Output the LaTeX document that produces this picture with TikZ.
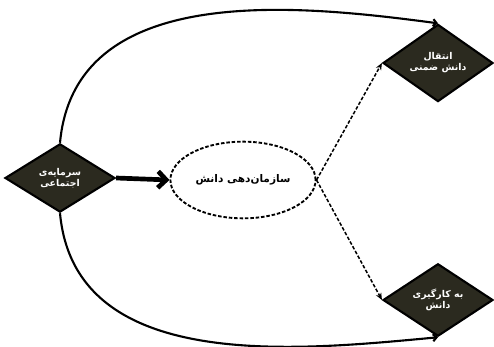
\documentclass[tikz,border=0pt]{standalone}
\usepackage{fontspec}
\newfontfamily\arabicfont[Script=Arabic]{DejaVu Sans}
\TeXXeTstate=1
\usetikzlibrary{arrows.meta,shapes.geometric}
\definecolor{darkfill}{HTML}{2B2A1F}

\begin{document}
\begin{tikzpicture}[
  x=0.03cm, y=-0.03cm,
  dia/.style={diamond, draw=black, line width=1.8pt, fill=darkfill, text=white, inner sep=0pt,
              minimum width=3.3cm, minimum height=2.05cm, align=center,
              font=\arabicfont\bfseries\footnotesize},
  hub/.style={ellipse, draw=black, dash pattern=on 3pt off 1.6pt, line width=1.6pt, minimum width=4cm,
              minimum height=2.3cm, font=\arabicfont\bfseries\small},
  bigarr/.style={-{Straight Barb[length=7pt,width=14pt]}, line width=4pt},
  dasharr/.style={-{Stealth[length=6pt,width=5pt]}, dash pattern=on 3pt off 1.6pt, line width=1.3pt},
  arc/.style={-{Straight Barb[length=3pt,width=6pt]}, line width=1.8pt}
]
  \useasboundingbox (0,0) rectangle (494,347);
  \node[dia] (capital) at (60,178) {\beginR سرمایه‌ی\endR\\\beginR اجتماعی\endR};
  \node[hub] (organize) at (243,180) {\beginR سازمان‌دهی دانش\endR};
  \node[dia] (transfer) at (438,63) {\beginR انتقال\endR\\\beginR دانش ضمنی\endR};
  \node[dia] (apply) at (438,300) {\beginR به کارگیری\endR\\\beginR دانش\endR};
  \draw[bigarr] (capital.east) -- (organize.west);
  \draw[dasharr] (organize.east) -- (transfer.west);
  \draw[dasharr] (organize.east) -- (apply.west);
  \draw[arc] (capital.north) .. controls (75,-20) and (300,5) .. (transfer.north);
  \draw[arc] (capital.south) .. controls (75,375) and (300,350) .. (apply.south);
\end{tikzpicture}
\end{document}
